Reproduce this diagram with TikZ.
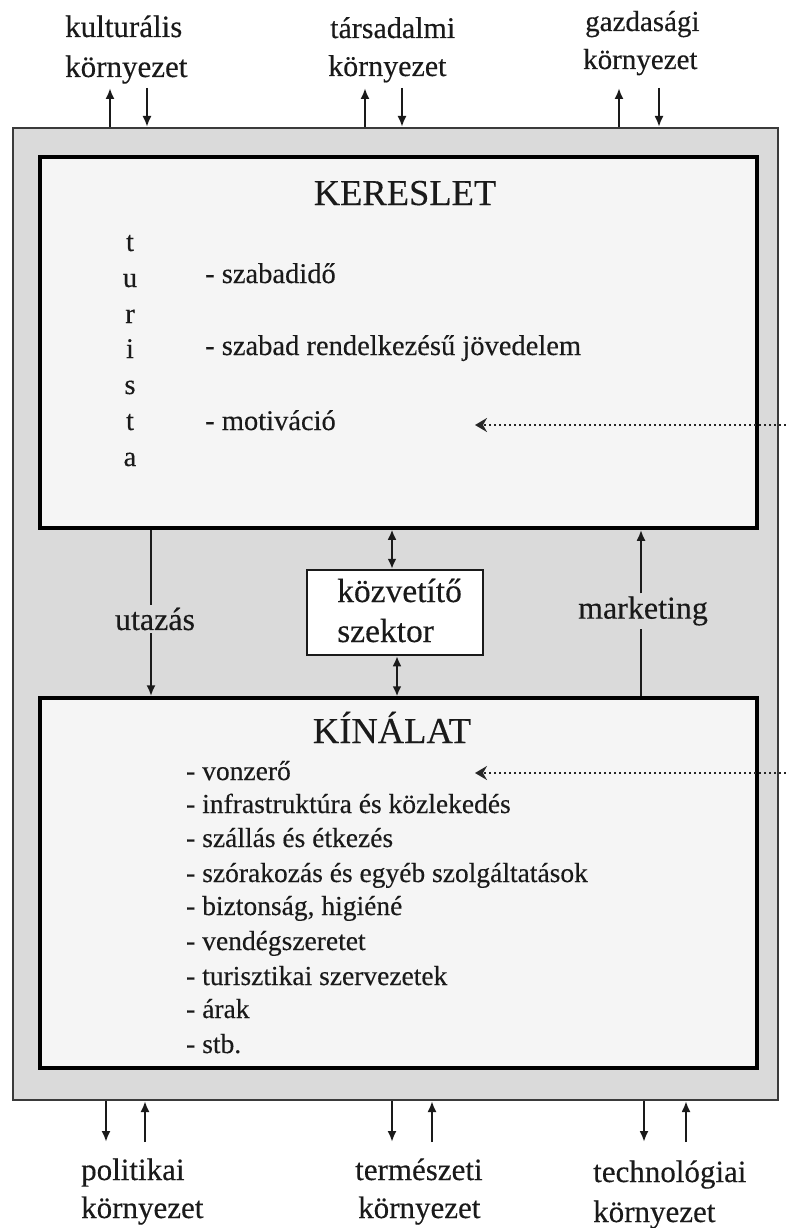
\documentclass[tikz,border=0pt]{standalone}
\usepackage{fontspec}
\setmainfont{Liberation Serif}[FakeBold=0.3]
\usetikzlibrary{arrows.meta}
\definecolor{bggray}{HTML}{DADADA}
\definecolor{boxfill}{HTML}{F5F5F5}
\definecolor{outline}{HTML}{3A3A3A}
\definecolor{ink}{HTML}{1A1A1A}
\newcommand{\fsz}[1]{\fontsize{#1}{#1}\selectfont}
\begin{document}
\begin{tikzpicture}[x=1pt,y=-1pt,
  every node/.style={text=ink},
  arr/.style={draw=ink, line width=2.2pt, -{Latex[length=11pt,width=9pt]}},
  darr/.style={draw=ink, line width=2.2pt, {Latex[length=10pt,width=9pt]}-{Latex[length=10pt,width=9pt]}},
  dotarr/.style={draw=black!85, line width=2.6pt, dash pattern=on 2.5pt off 2.5pt, -{Stealth[length=12pt,width=14pt,inset=4pt]}},
  bigbox/.style={draw=black, line width=3.5pt, fill=boxfill, inner sep=0pt},
  envlab/.style={anchor=base west, inner sep=0pt, font=\fsz{31}},
  itemK/.style={anchor=base west, inner sep=0pt, font=\fsz{28.5}},
  itemN/.style={anchor=base west, inner sep=0pt, font=\fsz{27.5}},
  letter/.style={anchor=base, inner sep=0pt, font=\fsz{28.5}},
  title/.style={anchor=base, inner sep=0pt, font=\fsz{36.5}},
  midlab/.style={fill=bggray, inner sep=3pt, font=\fsz{32}},
]
\useasboundingbox (0,0) rectangle (786,1228);
\fill[white] (0,0) rectangle (786,1228);

% outer frame
\node[draw=outline, line width=2pt, fill=bggray, minimum width=765pt, minimum height=972pt, inner sep=0pt] (outer) at (395.5,614) {};

% main boxes
\node[bigbox, minimum width=717pt, minimum height=371pt] (ker) at (398.5,342.5) {};
\node[bigbox, minimum width=717pt, minimum height=370pt] (kin) at (398.5,883) {};
\node[draw=ink, line width=2.5pt, fill=white, minimum width=176pt, minimum height=85pt, inner sep=0pt] (kozv) at (395,612.5) {};

% KERESLET content
\node[title] (kertitle) at (405,205) {KERESLET};
\node[letter] (t1) at (130,251) {t};
\node[letter] (t2) at (130,287) {u};
\node[letter] (t3) at (130,323) {r};
\node[letter] (t4) at (130,358) {i};
\node[letter] (t5) at (130,394) {s};
\node[letter] (t6) at (130,430) {t};
\node[letter] (t7) at (130,466) {a};
\node[itemK] (k1) at (205,283) {- szabadidő};
\node[itemK] (k2) at (205,355) {- szabad rendelkezésű jövedelem};
\node[itemK] (k3) at (205,430) {- motiváció};

% KINALAT content
\node[title] (kintitle) at (392,743) {KÍNÁLAT};
\node[itemN] (n1) at (186,780) {- vonzerő};
\node[itemN] (n2) at (186,813) {- infrastruktúra és közlekedés};
\node[itemN] (n3) at (186,847) {- szállás és étkezés};
\node[itemN] (n4) at (186,882) {- szórakozás és egyéb szolgáltatások};
\node[itemN] (n5) at (186,915) {- biztonság, higiéné};
\node[itemN] (n6) at (186,950) {- vendégszeretet};
\node[itemN] (n7) at (186,985) {- turisztikai szervezetek};
\node[itemN] (n8) at (186,1018) {- árak};
\node[itemN] (n9) at (186,1053) {- stb.};

% kozvetito text
\node[anchor=base west, inner sep=0pt, font=\fsz{33.5}] (kz1) at (337,602) {közvetítő};
\node[anchor=base west, inner sep=0pt, font=\fsz{33.5}] (kz2) at (337,642) {szektor};

% side labels and connectors
\node[midlab] (uta) at (155,619) {utazás};
\node[midlab] (mark) at (643,611) {marketing};
\draw[draw=ink, line width=2.2pt] (ker.south -| 151,0) -- (uta.north -| 151,0);
\draw[arr] (uta.south -| 151,0) -- (kin.north -| 151,0);
\draw[draw=ink, line width=2.2pt] (kin.north -| 641,0) -- (mark.south -| 641,0);
\draw[arr] (mark.north -| 641,0) -- (ker.south -| 641,0);

\draw[darr] (ker.south -| 392,0) -- (kozv.north -| 392,0);
\draw[darr] (kozv.south -| 397,0) -- (kin.north -| 397,0);

% dotted arrows
\coordinate (d1s) at (786,425);
\coordinate (d1e) at (475,425);
\coordinate (d2s) at (786,773);
\coordinate (d2e) at (475,773);
\draw[dotarr] (d1s) -- (d1e);
\draw[dotarr] (d2s) -- (d2e);

% environment labels top
\node[envlab, font=\fsz{31}] (kul1) at (65,37) {kulturális};
\node[envlab, font=\fsz{31}] (kul2) at (65,77) {környezet};
\node[envlab, font=\fsz{30}] (tar1) at (330,38) {társadalmi};
\node[envlab, font=\fsz{30}] (tar2) at (328,76) {környezet};
\node[envlab, font=\fsz{29}] (gaz1) at (585,31) {gazdasági};
\node[envlab, font=\fsz{29}] (gaz2) at (583,69) {környezet};

% environment labels bottom
\node[envlab] (pol1) at (81,1180) {politikai};
\node[envlab] (pol2) at (81,1218) {környezet};
\node[envlab] (ter1) at (355,1180) {természeti};
\node[envlab] (ter2) at (358,1218) {környezet};
\node[envlab] (tec1) at (593,1182) {technológiai};
\node[envlab] (tec2) at (593,1222) {környezet};

% top arrows
\coordinate (ku) at (110,88); \coordinate (kd) at (147,88);
\coordinate (tu) at (365,88); \coordinate (td) at (402,88);
\coordinate (gu) at (619,88); \coordinate (gd) at (659,88);
\draw[arr] (outer.north -| ku) -- (ku);
\draw[arr] (kd) -- (outer.north -| kd);
\draw[arr] (outer.north -| tu) -- (tu);
\draw[arr] (td) -- (outer.north -| td);
\draw[arr] (outer.north -| gu) -- (gu);
\draw[arr] (gd) -- (outer.north -| gd);

% bottom arrows
\coordinate (pd) at (106,1142); \coordinate (pu) at (145,1142);
\coordinate (ed) at (392,1142); \coordinate (eu) at (432,1142);
\coordinate (hd) at (644,1142); \coordinate (hu) at (686,1142);
\draw[arr] (outer.south -| pd) -- (pd);
\draw[arr] (pu) -- (outer.south -| pu);
\draw[arr] (outer.south -| ed) -- (ed);
\draw[arr] (eu) -- (outer.south -| eu);
\draw[arr] (outer.south -| hd) -- (hd);
\draw[arr] (hu) -- (outer.south -| hu);
\end{tikzpicture}
\end{document}
